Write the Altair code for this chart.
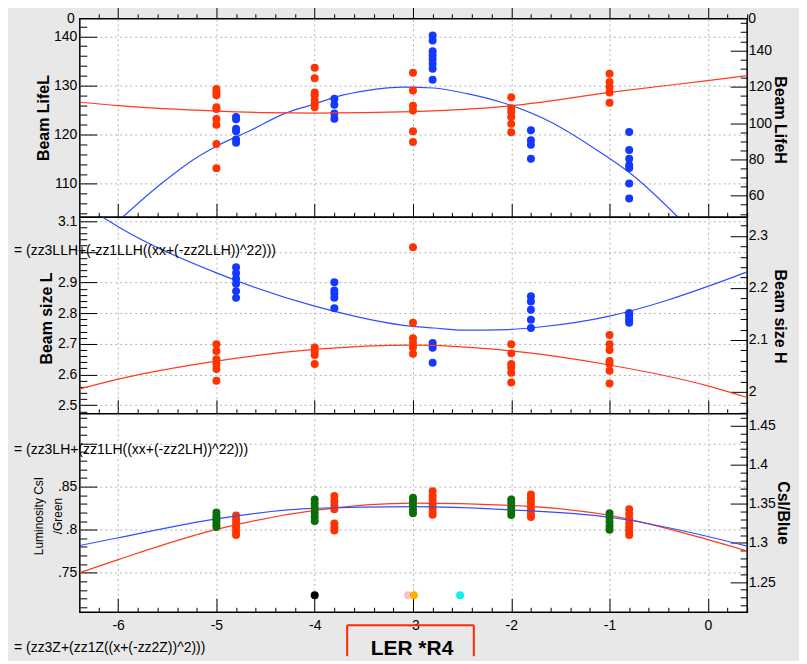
import altair as alt
import numpy as np
import pandas as pd

FONT = "Liberation Sans"
BG = "#e8e8e8"
RED = "#ff3300"
BLUE = "#1438ff"
GREEN = "#0b6e0b"
LRED = "#ff3b1f"
LBLUE = "#2f50ff"
GRID = "#b4b4b4"
BOX = "#ff2a00"

X_MIN, X_MAX = -6.39, 0.40
W = 669
H1, H2, H3 = 199, 197, 199

# ---------------- Panel 1 : beam lifetime ----------------
life_red_x = [-5] * 9 + [-4] * 7 + [-3] * 6 + [-2] * 6 + [-1] * 5
life_red_y = [129.3, 128.6, 128.0, 125.6, 125.2, 123.2, 122.0, 118.1, 113.2,
              133.6, 131.5, 128.6, 128.0, 127.0, 126.3, 125.6,
              132.6, 129.0, 125.9, 124.9, 120.7, 118.5,
              127.6, 125.4, 124.6, 123.6, 122.2, 120.5,
              132.4, 130.7, 129.7, 128.6, 126.5]
life_blue_x = [-4.8] * 6 + [-3.8] * 4 + [-2.8] * 8 + [-1.8] * 4 + [-0.8] * 7
life_blue_y = [103.4, 102.1, 96.9, 95.5, 90.9, 89.1,
               113.4, 110.1, 105.2, 102.4,
               148.2, 145.5, 139.5, 137.3, 135.2, 132.6, 129.9, 123.8,
               96.0, 90.5, 88.1, 80.4,
               95.1, 85.1, 80.4, 76.8, 75.3, 66.7, 58.5]
life_red_fit_x = [-6.39, -6.0, -5.0, -4.5, -4.0, -3.0, -2.0, -1.0, 0.0, 0.40]
life_red_fit_y = [126.6, 125.9, 124.8, 124.5, 124.4, 124.7, 125.9, 128.6, 131.0, 132.0]
life_blue_fit_x = [-5.95, -5.56, -5.22, -4.98, -4.65, -4.31, -3.99, -3.79, -3.46, -3.09,
                   -2.79, -2.45, -2.11, -1.60, -1.10, -0.77, -0.30]
life_blue_fit_y = [48.4, 66.7, 80.4, 87.8, 96.0, 105.2, 110.7, 114.3, 118.0, 119.8,
                   119.3, 116.2, 111.6, 100.6, 84.1, 71.5, 48.0]

# ---------------- Panel 2 : beam size ----------------
size_red_x = [-5] * 6 + [-4] * 4 + [-3] * 6 + [-2] * 6 + [-1] * 7
size_red_y = [2.699, 2.677, 2.650, 2.634, 2.618, 2.580,
              2.688, 2.675, 2.664, 2.634,
              3.015, 2.769, 2.718, 2.704, 2.688, 2.668,
              2.699, 2.669, 2.634, 2.623, 2.606, 2.574,
              2.729, 2.699, 2.680, 2.644, 2.634, 2.612, 2.571]
size_blue_x = [-4.8] * 6 + [-3.8] * 5 + [-2.8] * 4 + [-1.8] * 5 + [-0.8] * 5
size_blue_y = [2.240, 2.229, 2.218, 2.208, 2.194, 2.181,
               2.211, 2.195, 2.189, 2.181, 2.161,
               2.094, 2.090, 2.085, 2.056,
               2.184, 2.174, 2.158, 2.139, 2.123,
               2.152, 2.147, 2.142, 2.137, 2.133]
size_red_fit_x = [-6.39, -6.0, -5.0, -4.0, -3.0, -2.0, -1.0, 0.0, 0.40]
size_red_fit_y = [2.553, 2.585, 2.644, 2.682, 2.696, 2.677, 2.631, 2.563, 2.525]
size_blue_fit_x = [-6.155, -6.0, -5.0, -4.0, -3.0, -2.79, -2.48, -2.04, -1.71, -1.0, -0.42, 0.0, 0.40]
size_blue_fit_y = [2.336, 2.318, 2.229, 2.165, 2.126, 2.123, 2.119, 2.120, 2.125, 2.146, 2.176, 2.203, 2.231]

# ---------------- Panel 3 : luminosity ----------------
lumi_green_x = [-5] * 6 + [-4] * 6 + [-3] * 5 + [-2] * 5 + [-1] * 5
lumi_green_y = [0.820, 0.816, 0.813, 0.810, 0.806, 0.803,
                0.835, 0.830, 0.825, 0.820, 0.815, 0.810,
                0.837, 0.833, 0.828, 0.823, 0.819,
                0.835, 0.831, 0.826, 0.821, 0.817,
                0.819, 0.814, 0.809, 0.804, 0.800]
lumi_red_x = [-4.8] * 6 + [-3.8] * 7 + [-2.8] * 7 + [-1.8] * 7 + [-0.8] * 7
lumi_red_y = [1.335, 1.330, 1.325, 1.320, 1.315, 1.310,
              1.360, 1.354, 1.348, 1.343, 1.325, 1.320, 1.316,
              1.366, 1.360, 1.355, 1.350, 1.345, 1.340, 1.336,
              1.362, 1.357, 1.352, 1.347, 1.342, 1.337, 1.333,
              1.343, 1.337, 1.331, 1.325, 1.320, 1.315, 1.310]
lumi_fit_x = [-6.39, -6.0, -5.0, -4.0, -3.0, -2.0, -1.0, 0.0, 0.40]
lumi_blue_fit_y = [0.7816, 0.7906, 0.8126, 0.8249, 0.8268, 0.8230, 0.8144, 0.7921, 0.7808]
lumi_red_fit_y = [1.262, 1.2787, 1.3173, 1.3416, 1.3509, 1.3480, 1.3352, 1.3042, 1.2897]
marker_x = [-4.0, -3.05, -2.99, -2.52]
marker_y = [0.7237, 0.7237, 0.7237, 0.7237]
marker_c = ["#000000", "#ffc0cb", "#ffb000", "#10eeee"]

ONE = pd.DataFrame({"k": [0]})


def df(x, y, c=None):
    d = pd.DataFrame({"x": x, "y": y})
    if c is not None:
        d["c"] = c
    return d


def tick_vals(lo, hi, step):
    n0 = int(np.ceil(lo / step - 1e-9))
    n1 = int(np.floor(hi / step + 1e-9))
    return [round(i * step, 6) for i in range(n0, n1 + 1)]


def is_major(step):
    return f"abs(datum.value / {step} - round(datum.value / {step})) < 0.001"


def sized(step, big, small):
    return {"condition": {"test": is_major(step), "value": big}, "value": small}


X_ALL = tick_vals(-6.2, 0.4, 0.2)
X_MAJOR = tick_vals(-6, 0, 1)


def ax_x_ticks(h=None):
    kw = dict(orient="top", values=X_ALL, labels=False, domain=False, grid=False, ticks=True,
              tickColor="black", tickWidth=1, tickSize=sized(1, 14, 5), title=None)
    if h is not None:
        kw["offset"] = -h
    return alt.Axis(**kw)


def ax_x_grid(labels):
    return alt.Axis(orient="bottom", values=X_MAJOR, labels=labels, ticks=False, tickSize=0,
                    domain=False, grid=True, gridColor=GRID, gridDash=[2, 3], gridWidth=1,
                    labelPadding=6, labelFont=FONT, labelFontSize=14, labelColor="black",
                    labelOverlap=False, labelFlush=False, labelExpr="'' + datum.value", title=None)


def ax_y_ticks(orient, vals, step):
    return alt.Axis(orient=orient, offset=-W, values=vals, labels=False, domain=False, grid=False,
                    ticks=True, tickColor="black", tickWidth=1, tickSize=sized(step, 17, 7), title=None)


def ax_y_labels(orient, vals, expr, title, tx, ty, angle, grid, pad,
                tsize=16, tweight="bold", tline=None):
    kw = dict(orient=orient, values=vals, labelExpr=expr, ticks=False, tickSize=0, domain=False,
              grid=grid, labels=True, labelPadding=pad, labelFont=FONT, labelFontSize=14,
              labelColor="black", labelOverlap=False, labelFlush=False,
              title=title, titleX=tx, titleY=ty, titleAngle=angle, titleAlign="center",
              titleBaseline="middle", titleFont=FONT, titleFontSize=tsize,
              titleFontWeight=tweight, titleColor="black")
    if grid:
        kw.update(gridColor=GRID, gridDash=[2, 3], gridWidth=1)
    if tline:
        kw["titleLineHeight"] = tline
    return alt.Axis(**kw)


def make_mark(d, kind, color):
    c = alt.Chart(d)
    if kind == "line":
        return c.mark_line(color=color, strokeWidth=1.2, clip=True, interpolate="monotone"), {}
    if kind == "dots":
        return c.mark_circle(size=64, opacity=1), {"color": alt.Color("c:N", scale=None)}
    return c.mark_circle(size=64, color=color, opacity=1), {}


def txt(s, x, y, size=14, weight="normal", align="left"):
    return alt.Chart(ONE).mark_text(text=s, align=align, baseline="middle", font=FONT,
                                    fontSize=size, fontWeight=weight, color="black"
                                    ).encode(x=alt.value(x), y=alt.value(y))


def rule(x, y, x2=None, y2=None):
    enc = dict(x=alt.value(x), y=alt.value(y))
    if x2 is not None:
        enc["x2"] = alt.value(x2)
    if y2 is not None:
        enc["y2"] = alt.value(y2)
    return alt.Chart(ONE).mark_rule(color=BOX, strokeWidth=2).encode(**enc)


def panel(h, Lmarks, Rmarks, yL, yR, left_axis, right_axis, L_ticks, L_step, R_ticks, R_step,
          top_outward=False, x_labels=False, extras=()):
    xs = alt.Scale(domain=[X_MIN, X_MAX], nice=False, zero=False)
    sL = alt.Scale(domain=yL, nice=False, zero=False)
    sR = alt.Scale(domain=yR, nice=False, zero=False)

    members = []
    members.append(alt.Chart(Lmarks[0][0]).mark_point(opacity=0).encode(
        x=alt.X("x:Q", scale=xs, axis=ax_x_grid(x_labels)),
        y=alt.Y("y:Q", scale=sL, axis=ax_y_ticks("right", L_ticks, L_step))))
    members.append(alt.Chart(Rmarks[0][0]).mark_point(opacity=0).encode(
        x=alt.X("x:Q", scale=xs, axis=None),
        y=alt.Y("y:Q", scale=sR, axis=ax_y_ticks("left", R_ticks, R_step))))
    for i, (d, kind, color) in enumerate(Rmarks):
        m, extra = make_mark(d, kind, color)
        xa = ax_x_ticks() if (i == 0 and top_outward) else None
        members.append(m.encode(x=alt.X("x:Q", scale=xs, axis=xa),
                                y=alt.Y("y:Q", scale=sR, axis=right_axis if i == 0 else None), **extra))
    for i, (d, kind, color) in enumerate(Lmarks):
        m, extra = make_mark(d, kind, color)
        members.append(m.encode(x=alt.X("x:Q", scale=xs, axis=ax_x_ticks(h) if i == 0 else None),
                                y=alt.Y("y:Q", scale=sL, axis=left_axis if i == 0 else None), **extra))
    members += list(extras)
    return alt.layer(*members).resolve_scale(
        x="independent", y="independent").resolve_axis(
        x="independent", y="independent").properties(width=W, height=h)


NUM = "'' + datum.value"
# the "3" and ".9" labels sit underneath the fit-formula text in the original, so they are left blank
NUM_SIZE_L = "datum.value == 3 ? '' : '' + datum.value"
FRAC = "datum.value == 0.9 ? '' : replace('' + datum.value, '0.', '.')"

p1 = panel(
    H1,
    [(df(life_red_fit_x, life_red_fit_y), "line", LRED), (df(life_red_x, life_red_y), "pts", RED)],
    [(df(life_blue_fit_x, life_blue_fit_y), "line", LBLUE), (df(life_blue_x, life_blue_y), "pts", BLUE)],
    [103.2, 143.57], [48.1, 157.4],
    ax_y_labels("left", tick_vals(110, 140, 10), NUM, "Beam LifeL", -36, 99, 270, True, 3),
    ax_y_labels("right", tick_vals(60, 140, 20), NUM, "Beam LifeH", 32, 101, 90, False, 1),
    tick_vals(104, 142, 2), 10, tick_vals(50, 155, 5), 20,
    top_outward=True,
    extras=[txt("0", -5, 0, align="right"), txt("0", 670, 0, align="left")],
)

p2 = panel(
    H2,
    [(df(size_red_fit_x, size_red_fit_y), "line", LRED), (df(size_red_x, size_red_y), "pts", RED)],
    [(df(size_blue_fit_x, size_blue_fit_y), "line", LBLUE), (df(size_blue_x, size_blue_y), "pts", BLUE)],
    [2.472, 3.1126], [1.958, 2.336],
    ax_y_labels("left", tick_vals(2.5, 3.1, 0.1), NUM_SIZE_L, "Beam size L", -33, 101, 270, True, 3),
    ax_y_labels("right", tick_vals(2.0, 2.3, 0.1), NUM, "Beam size H", 32, 99, 90, False, 1),
    tick_vals(2.48, 3.1, 0.02), 0.1, tick_vals(1.96, 2.32, 0.02), 0.1,
    extras=[txt("= (zz3LLH+(-zz1LLH((xx+(-zz2LLH))^22)))", -66, 34, size=14)],
)

p3 = panel(
    H3,
    [(df(lumi_fit_x, lumi_blue_fit_y), "line", LBLUE), (df(lumi_green_x, lumi_green_y), "pts", GREEN),
     (df(marker_x, marker_y, marker_c), "dots", None)],
    [(df(lumi_fit_x, lumi_red_fit_y), "line", LRED), (df(lumi_red_x, lumi_red_y), "pts", RED)],
    [0.704, 0.9346], [1.2113, 1.4651],
    ax_y_labels("left", tick_vals(0.75, 0.9, 0.05), FRAC, ["Luminosity CsI", "/Green"], -41.5, 102,
                270, True, 3, tsize=12, tweight="normal", tline=19),
    ax_y_labels("right", tick_vals(1.25, 1.45, 0.05), NUM, "CsI/Blue", 35, 99, 90, False, 1),
    tick_vals(0.71, 0.93, 0.01), 0.05, tick_vals(1.22, 1.46, 0.01), 0.05,
    x_labels=True,
    extras=[txt("= (zz3LH+(zz1LH((xx+(-zz2LH))^22)))", -66, 36),
            txt("= (zz3Z+(zz1Z((x+(-zz2Z))^2)))", -66, 235),
            rule(268, 212, x2=395),
            rule(268, 212, y2=243),
            rule(395, 212, y2=243),
            txt("LER *R4", 333, 236, size=21, weight="bold", align="center")],
)

chart = alt.vconcat(p1, p2, p3, spacing=0, bounds="flush").properties(
    background=BG, padding={"left": 5, "top": -6, "right": 8, "bottom": 0}
).configure_view(stroke="black", strokeWidth=1.5, fill="white")

chart.save("out.html", embed_options={"renderer": "svg", "actions": False})
